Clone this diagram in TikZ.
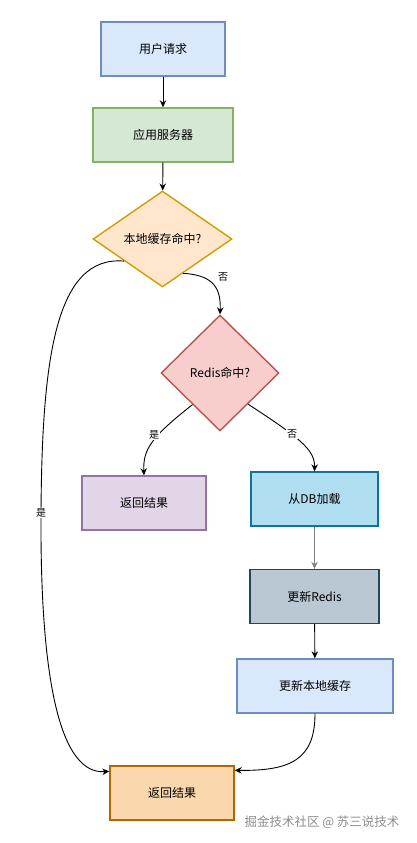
\documentclass[tikz,border=0pt]{standalone}
\usepackage{fontspec}
\setmainfont{Noto Sans CJK SC}
\usetikzlibrary{shapes.geometric,arrows.meta,calc}
\definecolor{bluef}{HTML}{DAE8FC}\definecolor{blued}{HTML}{6C8EBF}
\definecolor{greenf}{HTML}{D5E8D4}\definecolor{greend}{HTML}{82B366}
\definecolor{orangef}{HTML}{FFE6CC}\definecolor{oranged}{HTML}{D79B00}
\definecolor{redf}{HTML}{F8CECC}\definecolor{redd}{HTML}{B85450}
\definecolor{purplef}{HTML}{E1D5E7}\definecolor{purpled}{HTML}{9673A6}
\definecolor{cyanf}{HTML}{B1DDF0}\definecolor{cyand}{HTML}{10739E}
\definecolor{grayf}{HTML}{BAC8D3}\definecolor{grayd}{HTML}{23445D}
\definecolor{resf}{HTML}{FAD7AC}\definecolor{resd}{HTML}{B46504}
\begin{document}
\begin{tikzpicture}[x=1pt,y=-1pt,
  box/.style={draw, line width=1.4pt, rectangle, minimum height=54pt, inner sep=0pt, font=\fontsize{12}{14}\selectfont},
  dia/.style={draw, line width=1.4pt, diamond, inner sep=0pt, font=\fontsize{12}{14}\selectfont},
  conn/.style={line width=0.9pt, -{Stealth[length=7pt,width=6.5pt]}},
  lbl/.style={fill=white, inner sep=1pt, font=\fontsize{10}{12}\selectfont}]
\useasboundingbox (0,0) rectangle (416,843);
\node[box, fill=bluef, draw=blued, minimum width=124pt] (b1) at (163,49) {用户请求};
\node[box, fill=greenf, draw=greend, minimum width=140pt] (b2) at (163,135) {应用服务器};
\node[dia, fill=orangef, draw=oranged, minimum width=139pt, minimum height=96pt] (d1) at (162.5,239) {本地缓存命中?};
\node[dia, fill=redf, draw=redd, minimum width=118pt, minimum height=116pt] (d2) at (220,373) {Redis命中?};
\node[box, fill=purplef, draw=purpled, minimum width=124pt] (p) at (144,503) {返回结果};
\node[box, fill=cyanf, draw=cyand, minimum width=127pt] (db) at (314.5,499) {从DB加载};
\node[box, fill=grayf, draw=grayd, minimum width=129pt] (ur) at (314.5,596.5) {更新Redis};
\node[box, fill=bluef, draw=blued, minimum width=156pt] (ul) at (315,686) {更新本地缓存};
\node[box, fill=resf, draw=resd, minimum width=124pt] (res) at (172,793) {返回结果};
\node[text=black!45, font=\fontsize{12.5}{14}\selectfont] (wm) at (322,822) {掘金技术社区 @ 苏三说技术};

\coordinate (resL) at ($(res.north west)+(0,6)$);
\coordinate (resR) at ($(res.north east)+(0,5)$);
\coordinate (midL) at (41,513);

\draw[conn] (b1) -- (b2);
\draw[conn] (b2) -- (d1);
\draw[conn] (d1.-59) .. controls (215,275) and (221,290) .. (d2.north);
\draw[conn] (d1.210) .. controls (55,255) and (42,360) .. (midL) .. controls (40,680) and (60,775) .. (resL);
\draw[conn] (d2.229) .. controls (150,438) and (143,450) .. (p.north);
\draw[conn] (d2.-48) .. controls (300,438) and (315,450) .. (db.north);
\draw[conn, draw=black!50] (db) -- (ur);
\draw[conn] (ur) -- (ul);
\draw[conn] (ul.south) .. controls (315,760) and (290,771) .. (resR);

\node[lbl] (l1) at (223,277) {否};
\node[lbl] (l2) at (41,513) {是};
\node[lbl] (l3) at (154,435) {是};
\node[lbl] (l4) at (292,434) {否};
\end{tikzpicture}
\end{document}
